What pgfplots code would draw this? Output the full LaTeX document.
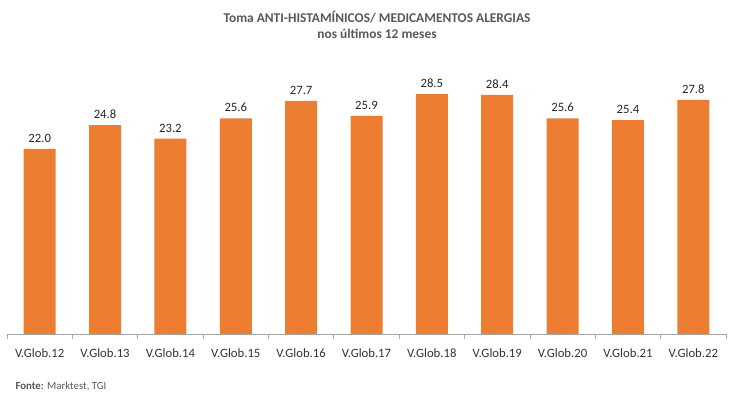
\documentclass[border=0pt]{standalone}
\usepackage{pgfplots}
\pgfplotsset{compat=1.18}
\usepackage{fontspec}
\setmainfont{Carlito}
\definecolor{barorange}{RGB}{237,125,49}
\definecolor{txtgray}{RGB}{89,89,89}
\definecolor{axgray}{RGB}{166,166,166}
\begin{document}
\begin{tikzpicture}[x=1pt,y=1pt]
\path[use as bounding box] (0,0) rectangle (734,410);
\begin{axis}[
  at={(7pt,76pt)}, anchor=south west,
  scale only axis, width=719pt, height=252.6pt,
  xmin=-0.5, xmax=10.5, ymin=0, ymax=30,
  ybar, bar width=32pt,
  axis x line*=bottom, axis y line=none,
  x axis line style={axgray, line width=0.8pt},
  xtick={0,...,10},
  xticklabels={V.Glob.12,V.Glob.13,V.Glob.14,V.Glob.15,V.Glob.16,V.Glob.17,V.Glob.18,V.Glob.19,V.Glob.20,V.Glob.21,V.Glob.22},
  major tick length=0pt,
  minor xtick={-0.5,0.5,...,10.5},
  minor tick length=5pt,
  tick align=outside,
  minor tick style={axgray, line width=0.8pt},
  xticklabel style={font=\fontsize{12.7}{15}\selectfont, text=black!80, yshift=-11pt},
  /pgf/number format/assume math mode=true,
  nodes near coords={\pgfmathprintnumber[fixed,fixed zerofill,precision=1]{\pgfplotspointmeta}},
  nodes near coords style={font=\fontsize{12.7}{15}\selectfont, text=black!85, yshift=3pt},
  clip=false,
]
\addplot[fill=barorange, draw=none] coordinates {
(0,22.0) (1,24.8) (2,23.2) (3,25.6) (4,27.7) (5,25.9) (6,28.5) (7,28.4) (8,25.6) (9,25.4) (10,27.8)};
\end{axis}
\node[font=\bfseries\fontsize{13.4}{16}\selectfont, text=txtgray, align=center] at (377,385) {Toma ANTI-HISTAMÍNICOS/ MEDICAMENTOS ALERGIAS\\nos últimos 12 meses};
\node[font=\fontsize{10.8}{12}\selectfont, text=txtgray, anchor=west] at (12,24) {\textbf{Fonte:} Marktest, TGI};
\end{tikzpicture}
\end{document}
